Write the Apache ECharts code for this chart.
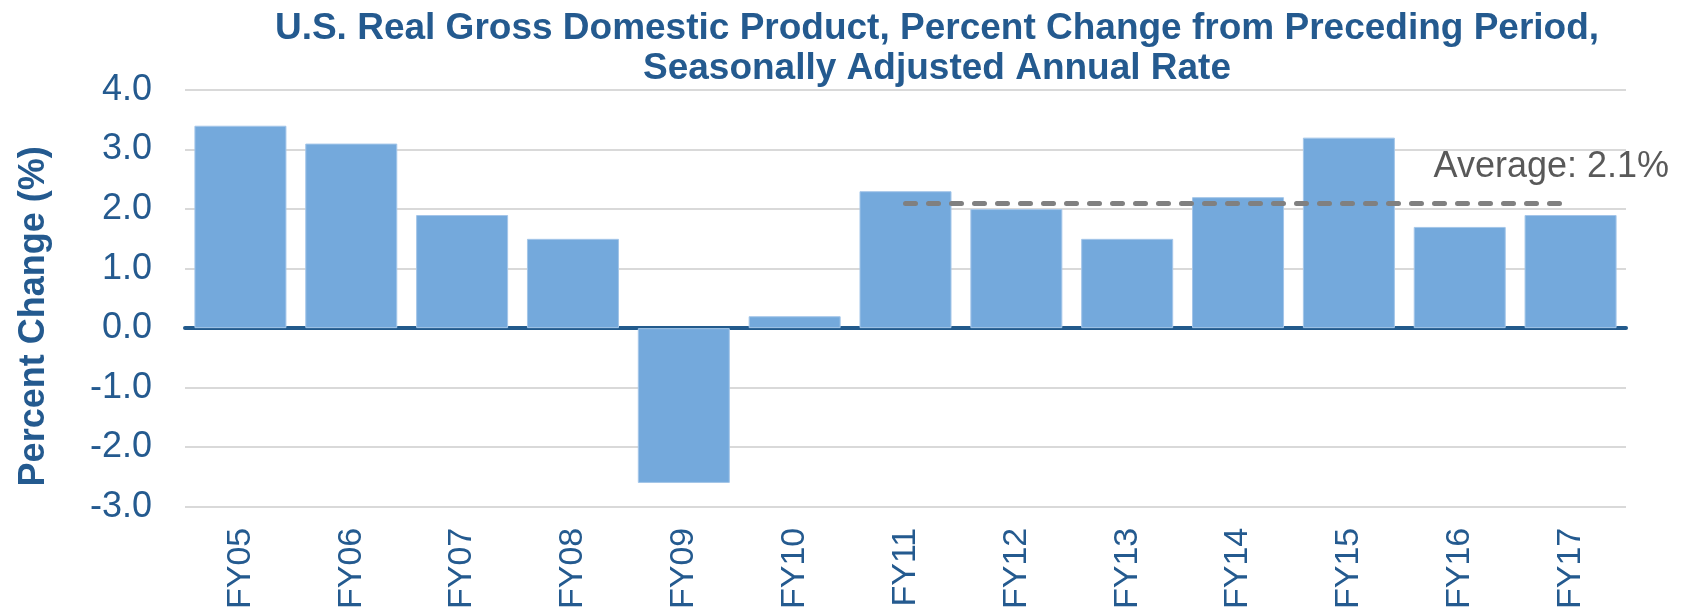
<!DOCTYPE html>
<html>
<head>
<meta charset="utf-8">
<title>U.S. Real GDP</title>
<script src="https://cdn.jsdelivr.net/npm/echarts@6/dist/echarts.min.js"></script>
<style>
  html, body { margin: 0; padding: 0; background: #fff; }
  #chart { width: 1692px; height: 612px; }
</style>
</head>
<body>
<div id="chart"></div>
<script>
// fiscal years and growth rates (%)
const years = ['FY05', 'FY06', 'FY07', 'FY08', 'FY09', 'FY10', 'FY11', 'FY12', 'FY13', 'FY14', 'FY15', 'FY16', 'FY17'];
const gdpChange = [3.4, 3.1, 1.9, 1.5, -2.6, 0.2, 2.3, 2.0, 1.5, 2.2, 3.2, 1.7, 1.9];
// average line, drawn from FY11 to FY17
const avgValue = 2.1;
const avgFrom = 'FY11';
const avgTo = 'FY17';

const blue = '#245A8F';
const font = '"Liberation Sans", Arial, sans-serif';

const myChart = echarts.init(document.getElementById('chart'));

const option = {
  animation: false,
  title: {
    text: 'U.S. Real Gross Domestic Product, Percent Change from Preceding Period,\nSeasonally Adjusted Annual Rate',
    left: 932,
    top: 4,
    textAlign: 'center',
    textStyle: {
      fontFamily: font,
      fontWeight: 'bold',
      fontSize: 37,
      lineHeight: 40,
      color: blue
    }
  },
  grid: {
    left: 185,
    right: 66,
    top: 90,
    bottom: 103
  },
  xAxis: {
    type: 'category',
    data: years,
    axisLine: {
      onZero: true,
      lineStyle: { color: '#225A8C', width: 4 }
    },
    axisTick: { show: false },
    axisLabel: {
      interval: 0,
      rotate: 90,
      margin: 21,
      fontFamily: font,
      fontSize: 34,
      color: blue
    }
  },
  yAxis: {
    type: 'value',
    min: -3,
    max: 4,
    interval: 1,
    name: 'Percent Change (%)',
    nameLocation: 'middle',
    nameGap: 133,
    nameTextStyle: {
      fontFamily: font,
      fontWeight: 'bold',
      fontSize: 36,
      color: blue,
      padding: [0, 36, 0, 0]
    },
    axisLine: { show: false },
    axisTick: { show: false },
    axisLabel: {
      margin: 33,
      fontFamily: font,
      fontSize: 36,
      color: blue,
      formatter: v => v.toFixed(1)
    },
    splitLine: {
      lineStyle: { color: '#D9D9D9', width: 2 }
    }
  },
  series: [{
    type: 'bar',
    data: gdpChange,
    barCategoryGap: '17%',
    itemStyle: {
      color: '#74A9DC',
      borderColor: '#A4C6E9',
      borderWidth: 1
    },
    markLine: {
      silent: true,
      symbol: 'none',
      lineStyle: {
        color: '#808080',
        width: 5,
        type: [10, 13],
        cap: 'round'
      },
      label: {
        show: true,
        position: 'end',
        formatter: 'Average: ' + avgValue.toFixed(1) + '%',
        offset: [-142, -36],
        fontFamily: font,
        fontSize: 36,
        color: '#595959'
      },
      data: [[
        { coord: [avgFrom, avgValue] },
        { coord: [avgTo, avgValue] }
      ]]
    }
  }]
};

myChart.setOption(option);
</script>
</body>
</html>
